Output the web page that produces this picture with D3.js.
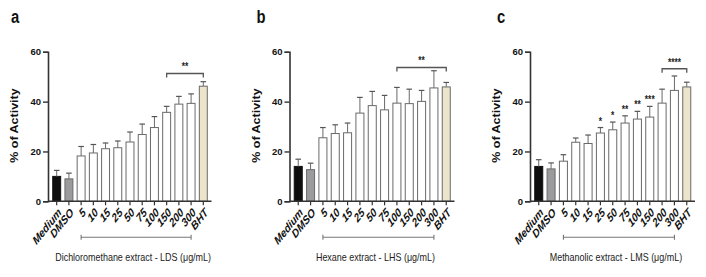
<!DOCTYPE html>
<html>
<head>
<meta charset="utf-8">
<script src="https://cdn.jsdelivr.net/npm/d3@7"></script>
<style>
  body { margin: 0; background: #fff; }
  svg { display: block; font-family: "Liberation Sans", Arial, sans-serif; }
</style>
</head>
<body>
<div id="chart"></div>
<script>
// groups on the x axis (same for every panel)
const categories = ["Medium", "DMSO", "5", "10", "15", "25", "50", "75", "100", "150", "200", "300", "BHT"];
const yTicks = [0, 20, 40, 60];

const panelLetters = ["a", "b", "c"];
const xTitles = [
  "Dichloromethane extract - LDS (\u03bcg/mL)",
  "Hexane extract - LHS (\u03bcg/mL)",
  "Methanolic extract - LMS (\u03bcg/mL)"
];

// % of activity, mean and sd
const ldsMean = [10, 9, 18.2, 19.4, 21.1, 21.5, 23.8, 26.8, 29.6, 35.7, 39, 39.3, 46.2];
const ldsSd   = [2.4, 2.3, 3.8, 3.4, 2.3, 2.7, 4.0, 4.2, 4.4, 2.4, 3.1, 3.8, 1.8];
const lhsMean = [14, 12.7, 25.5, 27.2, 27.5, 35.4, 38.4, 36.7, 39.4, 39.2, 40.1, 45.5, 45.9];
const lhsSd   = [2.9, 2.6, 4.1, 3.5, 3.9, 6.3, 5.7, 5.8, 6.3, 5.8, 4.4, 6.9, 1.8];
const lmsMean = [14, 13, 16.1, 23.7, 23.2, 27.4, 28.7, 31.4, 33, 33.8, 39.4, 44.5, 45.9];
const lmsSd   = [2.7, 2.4, 2.6, 1.7, 3.4, 2.2, 3.1, 2.9, 3.1, 4.3, 5.6, 5.8, 1.9];

// stars over single bars (only panel c has them)
const ldsStars = ["", "", "", "", "", "", "", "", "", "", "", "", ""];
const lhsStars = ["", "", "", "", "", "", "", "", "", "", "", "", ""];
const lmsStars = ["", "", "", "", "", "*", "*", "**", "**", "***", "", "", ""];

// bracket comparisons vs BHT
const bracketFrom = ["150", "100", "200"];
const bracketTo = ["BHT", "BHT", "BHT"];
const bracketLevel = [51.3, 53.7, 53.2];
const bracketLabel = ["**", "**", "****"];

// the extract doses underlined by the bottom bracket
const extractFirst = "5";
const extractLast = "300";

const fills = { Medium: "#0e0e0e", DMSO: "#9b9b9d", BHT: "#ece5cb" };
const W = 706, H = 277;
const SQ = 0.8; // picture is squeezed sideways

const svg = d3.select("#chart").append("svg").attr("width", W).attr("height", H);

const y = d3.scaleLinear().domain([0, 60]).range([201.3, 51.8]);

const panels = [
  { mean: ldsMean, sd: ldsSd, stars: ldsStars, axisX: 48, width: 157 },
  { mean: lhsMean, sd: lhsSd, stars: lhsStars, axisX: 289.5, width: 158.5 },
  { mean: lmsMean, sd: lmsSd, stars: lmsStars, axisX: 530, width: 158.5 }
];

panels.forEach(function(p, i) {
  const g = svg.append("g");
  const x = d3.scaleBand().domain(categories)
    .range([p.axisX + 3.5, p.axisX + 3.5 + p.width])
    .paddingInner(0.35).paddingOuter(0.1);
  const cx = d => x(d) + x.bandwidth() / 2;
  const rows = categories.map((c, k) => ({ cat: c, mean: p.mean[k], sd: p.sd[k], star: p.stars[k] }));

  // bars
  g.selectAll("rect.bar").data(rows).enter().append("rect")
    .attr("class", "bar")
    .attr("x", d => x(d.cat))
    .attr("y", d => y(d.mean))
    .attr("width", x.bandwidth())
    .attr("height", d => y(0) - y(d.mean))
    .attr("fill", d => fills[d.cat] || "#fff")
    .attr("stroke", d => d.cat === "Medium" ? "#111" : "#6a6a6a")
    .attr("stroke-width", 1);

  // error bars (upper only)
  g.selectAll("line.err").data(rows).enter().append("line")
    .attr("x1", d => cx(d.cat)).attr("x2", d => cx(d.cat))
    .attr("y1", d => y(d.mean)).attr("y2", d => y(d.mean + d.sd))
    .attr("stroke", "#6a6a6a").attr("stroke-width", 1);
  g.selectAll("line.cap").data(rows).enter().append("line")
    .attr("x1", d => cx(d.cat) - 2.8).attr("x2", d => cx(d.cat) + 2.8)
    .attr("y1", d => y(d.mean + d.sd)).attr("y2", d => y(d.mean + d.sd))
    .attr("stroke", "#555").attr("stroke-width", 1.2);

  // stars on single bars
  g.selectAll("text.star").data(rows.filter(d => d.star)).enter().append("text")
    .attr("transform", d => `translate(${cx(d.cat)},${y(d.mean + d.sd) - 3}) scale(${SQ},1)`)
    .attr("text-anchor", "middle")
    .attr("font-size", 10.5).attr("font-weight", "bold").attr("fill", "#222")
    .text(d => d.star);

  // y axis
  const ax = d3.axisLeft(y).tickValues(yTicks).tickSize(5).tickPadding(2).tickFormat(d3.format("d"));
  const ay = g.append("g").attr("transform", `translate(${p.axisX},0)`).call(ax);
  ay.select(".domain").attr("stroke", "#333").attr("stroke-width", 1.6);
  ay.selectAll(".tick line").attr("stroke", "#333").attr("stroke-width", 1.4);
  ay.selectAll(".tick text").attr("font-size", 9.5).attr("font-weight", "bold")
    .attr("font-family", "'Liberation Sans', Arial, sans-serif").attr("fill", "#111");

  // x axis line + ticks
  const xEnd = p.axisX + 3.5 + p.width + 3;
  g.append("line").attr("x1", p.axisX).attr("x2", xEnd)
    .attr("y1", y(0)).attr("y2", y(0)).attr("stroke", "#333").attr("stroke-width", 1.6);
  g.selectAll("line.xt").data(categories).enter().append("line")
    .attr("x1", d => cx(d)).attr("x2", d => cx(d))
    .attr("y1", y(0)).attr("y2", y(0) + 4)
    .attr("stroke", "#333").attr("stroke-width", 1.2);
  g.selectAll("text.xl").data(categories).enter().append("text")
    .attr("transform", d => `translate(${cx(d) + 3},${y(0) + 9}) scale(${SQ},1) rotate(-45)`)
    .attr("text-anchor", "end")
    .attr("dy", "0.35em")
    .attr("font-size", 12).attr("font-weight", "bold").attr("font-style", "italic").attr("fill", "#111")
    .text(d => d);

  // y title
  g.append("text")
    .attr("transform", `translate(${p.axisX - 30},${(y(0) + y(60)) / 2 - 1}) rotate(-90) scale(1,${SQ})`)
    .attr("text-anchor", "middle")
    .attr("font-size", 12.5).attr("font-weight", "bold").attr("fill", "#111")
    .text("% of Activity");

  // panel letter
  g.append("text")
    .attr("transform", `translate(${p.axisX - 37 + (i === 0 ? 0 : 4)},23) scale(0.78,1)`)
    .attr("font-size", 19).attr("font-weight", "bold").attr("fill", "#111")
    .text(panelLetters[i]);

  // comparison bracket above
  const bx1 = cx(bracketFrom[i]), bx2 = cx(bracketTo[i]), by = y(bracketLevel[i]);
  g.append("path")
    .attr("d", `M${bx1},${by + 4}V${by}H${bx2}V${by + 4}`)
    .attr("fill", "none").attr("stroke", "#555").attr("stroke-width", 1.3);
  g.append("text")
    .attr("transform", `translate(${(bx1 + bx2) / 2},${by - 3}) scale(${SQ},1)`)
    .attr("text-anchor", "middle")
    .attr("font-size", 10.5).attr("font-weight", "bold").attr("fill", "#222")
    .text(bracketLabel[i]);

  // bottom bracket under the extract doses
  const ex1 = cx(extractFirst), ex2 = cx(extractLast), ey = 237.2;
  g.append("path")
    .attr("d", `M${ex1},${ey - 2.5}V${ey + 2.5}M${ex1},${ey}H${ex2}M${ex2},${ey - 2.5}V${ey + 2.5}`)
    .attr("fill", "none").attr("stroke", "#777").attr("stroke-width", 1.1);

  g.append("text")
    .attr("transform", `translate(${(ex1 + ex2) / 2 - 3},261) scale(${SQ},1)`)
    .attr("text-anchor", "middle")
    .attr("font-size", 11.2).attr("fill", "#222")
    .text(xTitles[i]);
});
</script>
</body>
</html>
